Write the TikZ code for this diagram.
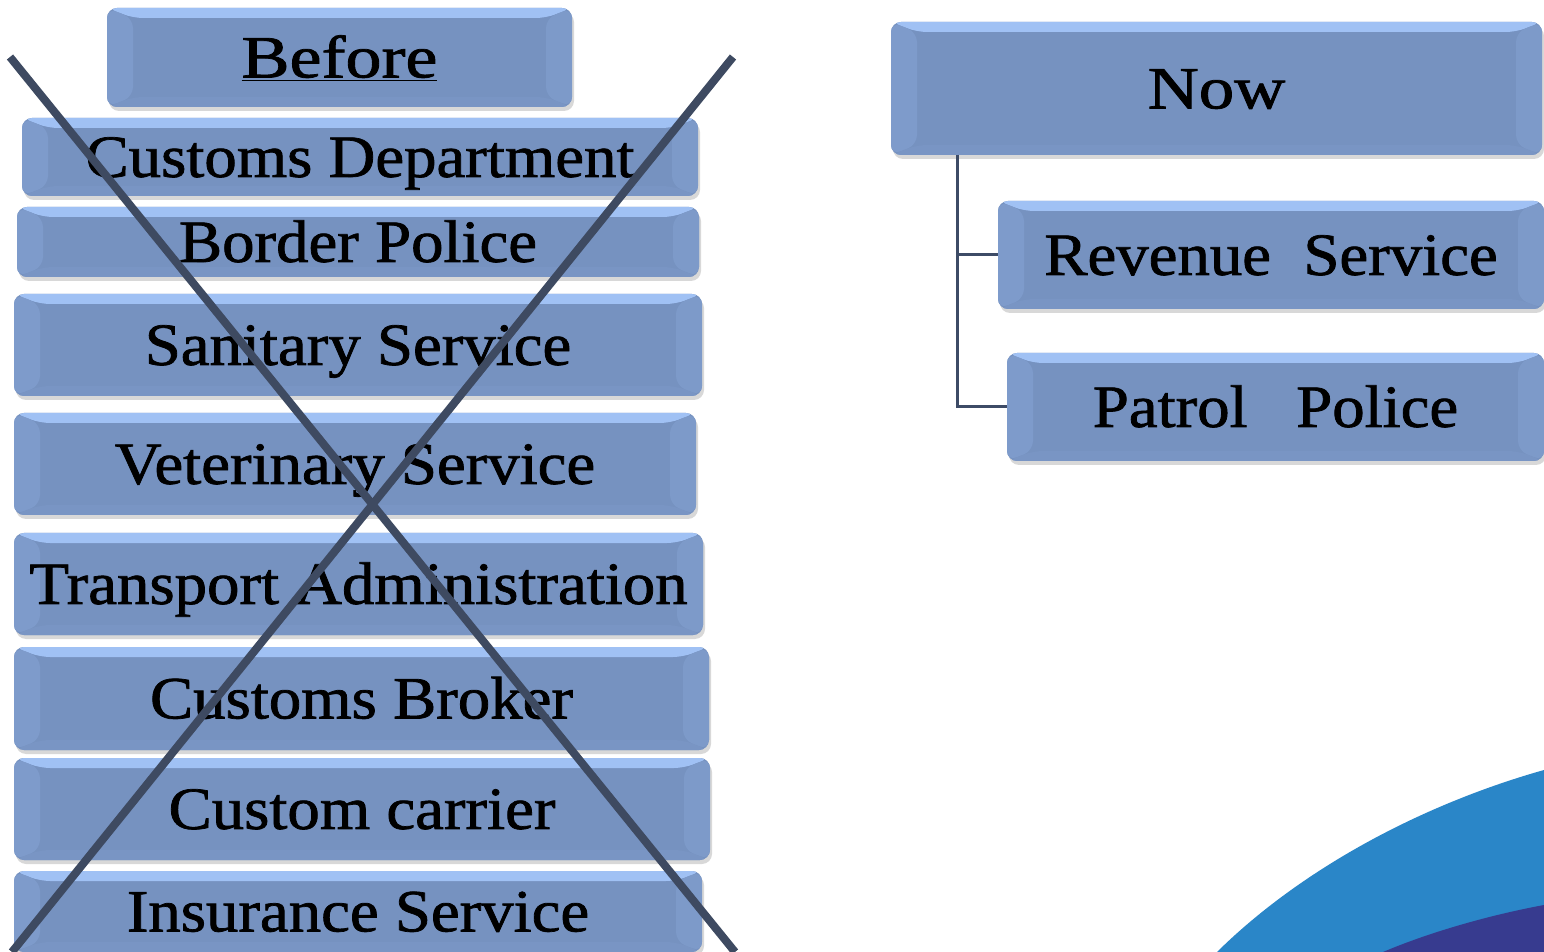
\documentclass[tikz,border=0pt]{standalone}
\usepackage{fontspec}
\setmainfont{Liberation Serif}[FakeBold=1.2]
\usetikzlibrary{shadows}
\definecolor{face}{HTML}{7692C0}
\definecolor{toplight}{HTML}{A0C1F4}
\definecolor{leftb}{HTML}{7E9BCB}
\definecolor{rightb}{HTML}{7D9AC9}
\definecolor{botb}{HTML}{7995C4}
\definecolor{xline}{HTML}{3E4A61}
\definecolor{conn}{HTML}{3D4B66}
\definecolor{arcblue}{HTML}{2A86C8}
\definecolor{arcnavy}{HTML}{373B8F}
\tikzset{
  bev/.style={rounded corners=5pt, fill=face, draw=none, inner sep=0pt,
    drop shadow={opacity=0.3, shadow xshift=1pt, shadow yshift=-2pt},
    font=\fontsize{30}{34}\selectfont, text height=19.9pt, text depth=0pt,
    path picture={
      \def\bx{13pt}\def\by{5pt}
      \fill[toplight] (path picture bounding box.north west) -- (path picture bounding box.north east)
        -- ([xshift=-\bx,yshift=-\by]path picture bounding box.north east) -- ([xshift=\bx,yshift=-\by]path picture bounding box.north west) -- cycle;
      \fill[leftb] (path picture bounding box.north west) -- ([xshift=\bx,yshift=-\by]path picture bounding box.north west)
        -- ([xshift=\bx,yshift=\by]path picture bounding box.south west) -- (path picture bounding box.south west) -- cycle;
      \fill[rightb] (path picture bounding box.north east) -- ([xshift=-\bx,yshift=-\by]path picture bounding box.north east)
        -- ([xshift=-\bx,yshift=\by]path picture bounding box.south east) -- (path picture bounding box.south east) -- cycle;
      \fill[botb] (path picture bounding box.south west) -- (path picture bounding box.south east)
        -- ([xshift=-\bx,yshift=\by]path picture bounding box.south east) -- ([xshift=\bx,yshift=\by]path picture bounding box.south west) -- cycle;
    }},
  crossline/.style={draw=xline, line width=4pt},
  connline/.style={draw=conn, line width=1.5pt}
}
\newcommand\mybox[7][1.08]{%
  \node[bev, minimum width={(#5-#3)*0.5pt}, minimum height={(#6-#4)*0.5pt}] (#2) at ({(#3+#5)/2},{(#4+#6)/2}) {\scalebox{#1}[1]{#7}};}
\begin{document}
\begin{tikzpicture}[x=0.5pt,y=-0.5pt]
\useasboundingbox (0,0) rectangle (1544,952);
\clip (0,0) rectangle (1544,952);
\fill[white] (0,0) rectangle (1544,952);
% decoration
\fill[arcblue] (1217,952) .. controls (1300,870) and (1420,805) .. (1544,770) -- (1544,952) -- cycle;
\fill[arcnavy] (1383,952) .. controls (1430,932) and (1490,915) .. (1544,905) -- (1544,952) -- cycle;
% before column
\mybox[1.2]{before}{107}{8}{572}{107}{\underline{Before}}
\mybox{customs}{22}{118}{698}{196}{Customs Department}
\mybox{border}{17}{207}{699}{277}{Border Police}
\mybox{sanitary}{14}{294}{702}{396}{Sanitary Service}
\mybox{vet}{14}{413}{696}{515}{Veterinary Service}
\mybox{transport}{14}{533}{703}{635}{Transport Administration}
\mybox{broker}{14}{647}{709}{750}{Customs Broker}
\mybox{carrier}{14}{758}{710}{860}{Custom carrier}
\mybox{insurance}{14}{871}{702}{952}{Insurance Service}
% cross
\coordinate (xa) at (10,57);
\coordinate (xb) at (735,952);
\coordinate (xc) at (733,57);
\coordinate (xd) at (12,952);
\draw[crossline] (xa) -- (xb);
\draw[crossline] (xc) -- (xd);
% now column
\mybox[1.18]{now}{891}{22}{1542}{155}{Now}
\mybox{rev}{998}{201}{1544}{309}{Revenue\ \ Service}
\mybox{pat}{1007}{353}{1544}{461}{Patrol\ \ \ Police}
\coordinate (trunk) at (957,155);
\draw[connline] (trunk) |- (rev.west);
\draw[connline] (trunk) |- (pat.west);
\end{tikzpicture}
\end{document}
